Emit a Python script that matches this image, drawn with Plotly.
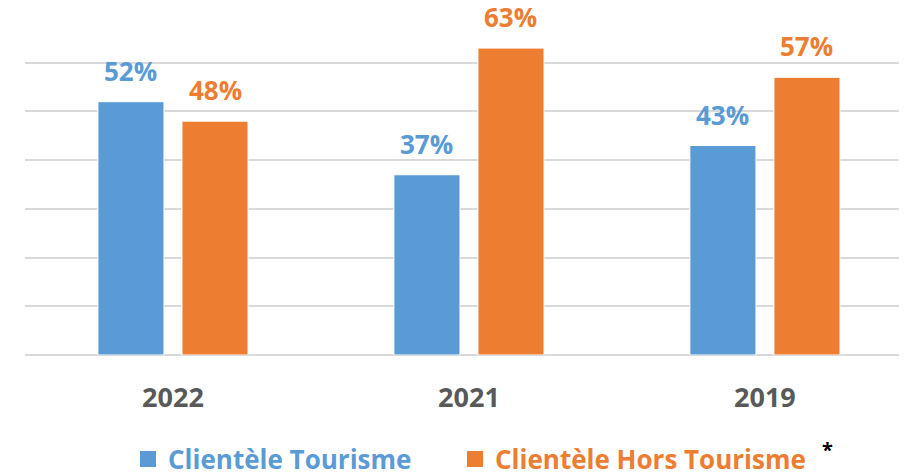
import plotly.graph_objects as go

categories = ["2022", "2021", "2019"]
tourisme = [52, 37, 43]
hors_tourisme = [48, 63, 57]
series_names = ["Clientèle Tourisme", "Clientèle Hors Tourisme"]
colors = ["#5B9BD5", "#ED7D31"]

BARGAP = 0.432
GROUPGAP = 0.214
FONT = "Open Sans"
# the page body has an 8px margin, so the figure is drawn 8px in from the window corner
OFF = 8
W, H = 907 - OFF, 472 - OFF
ML, MT, MB = 25 - OFF, 14 - OFF, 117
PW, PH = W - ML, H - MT - MB


def px(xw):
    return (xw - OFF - ML) / PW


def py(yw):
    return (H - MB - (yw - OFF)) / PH


fig = go.Figure()
x_idx = list(range(len(categories)))
legend_ids = ["legend", "legend2"]
legend_left = [128, 455]
for name, vals, col, lid in zip(series_names, [tourisme, hors_tourisme], colors, legend_ids):
    fig.add_trace(go.Bar(x=x_idx, y=vals, name=name, marker_color=col,
                         marker_line=dict(color="white", width=1),
                         showlegend=False))
    fig.add_trace(go.Scatter(x=[None], y=[None], mode="markers",
                             name=f"<span style='color:{col}'>{name}</span>",
                             marker=dict(symbol="square", size=16, color=col),
                             showlegend=True, legend=lid))

slot = (1 - BARGAP) / 2
annotations = []
for k, (vals, col) in enumerate(zip([tourisme, hors_tourisme], colors)):
    off = -slot / 2 if k == 0 else slot / 2
    for i, v in enumerate(vals):
        annotations.append(dict(x=i + off, y=v, xref="x", yref="y", text=f"{v}%",
                                showarrow=False, yanchor="bottom", yshift=11,
                                font=dict(family=FONT, size=26, color=col, weight="bold")))
annotations.append(dict(x=px(827), y=py(449), xref="paper", yref="paper", text="*",
                        showarrow=False, xanchor="center", yanchor="middle",
                        font=dict(family=FONT, size=20, color="black", weight="bold")))

legend_common = dict(orientation="h", yanchor="middle", y=py(459),
                     font=dict(family=FONT, size=26, weight="bold"),
                     itemwidth=30, bgcolor="rgba(0,0,0,0)")

fig.update_layout(
    width=W, height=H,
    margin=dict(l=ML, r=0, t=MT, b=MB, autoexpand=False),
    paper_bgcolor="white", plot_bgcolor="white",
    barmode="group", bargap=BARGAP, bargroupgap=GROUPGAP,
    annotations=annotations,
    legend=dict(x=px(legend_left[0]), xanchor="left", **legend_common),
    legend2=dict(x=px(legend_left[1]), xanchor="left", **legend_common),
    xaxis=dict(range=[-0.5, 2.48], tickmode="array", tickvals=x_idx, ticktext=categories,
               tickfont=dict(family=FONT, size=27, color="#595959", weight="bold"),
               showgrid=False, ticks="", ticklabelstandoff=24, showline=False, zeroline=False),
    yaxis=dict(range=[0, 70], dtick=10, showticklabels=False, showgrid=True,
               gridcolor="#D9D9D9", gridwidth=1.5, zeroline=True, zerolinecolor="#D9D9D9",
               zerolinewidth=1.5, fixedrange=True),
)
fig.write_html("out.html")
